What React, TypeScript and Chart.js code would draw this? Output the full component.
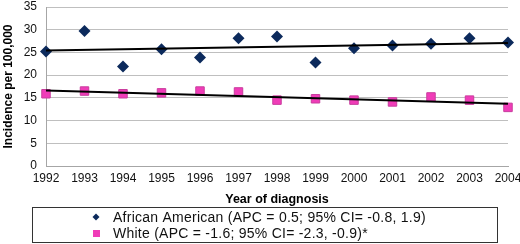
import React, { useEffect, useRef } from "react";
import { Chart, registerables } from "chart.js";

Chart.register(...registerables);

const years = [1992, 1993, 1994, 1995, 1996, 1997, 1998, 1999, 2000, 2001, 2002, 2003, 2004];
const africanAmerican = [25.2, 29.7, 21.9, 25.7, 23.9, 28.1, 28.5, 22.8, 25.9, 26.5, 26.9, 28.1, 27.2];
const white = [15.9, 16.5, 15.9, 16.1, 16.5, 16.3, 14.5, 14.8, 14.5, 14.1, 15.2, 14.5, 12.9];
const trendYears = [1992, 2004];
const aaTrend = [25.4, 27.1];
const whiteTrend = [16.6, 13.7];
const aaLabel = "African American (APC = 0.5; 95% CI= -0.8, 1.9)";
const whiteLabel = "White (APC = -1.6; 95% CI= -2.3, -0.9)*";
const xTitle = "Year of diagnosis";
const yTitle = "Incidence per 100,000";

const FONT = "'Liberation Sans', Arial, sans-serif";
const NAVY = "#0c2a5c";
const PINK = "#f03cb8";

const legendPlugin = {
  id: "boxLegend",
  afterDraw(chart: any) {
    const ctx = chart.ctx;
    ctx.save();
    ctx.strokeStyle = "#333333";
    ctx.lineWidth = 1;
    ctx.strokeRect(32.5, 207.5, 465, 35);
    ctx.font = `14px ${FONT}`;
    try {
      ctx.letterSpacing = "0.25px";
    } catch (e) {}
    ctx.textBaseline = "middle";
    ctx.textAlign = "left";
    const items = [
      { label: chart.data.datasets[0].label, y: 217, kind: "diamond" },
      { label: chart.data.datasets[1].label, y: 233, kind: "square" },
    ];
    for (const it of items) {
      if (it.kind === "diamond") {
        ctx.fillStyle = NAVY;
        ctx.beginPath();
        ctx.moveTo(96, it.y - 3.5);
        ctx.lineTo(99.5, it.y);
        ctx.lineTo(96, it.y + 3.5);
        ctx.lineTo(92.5, it.y);
        ctx.closePath();
        ctx.fill();
      } else {
        ctx.fillStyle = PINK;
        ctx.fillRect(93, it.y - 3, 7, 7);
      }
      ctx.fillStyle = "#111111";
      ctx.fillText(it.label, 113, it.y + 1);
    }
    ctx.restore();
  },
};

export default function App() {
  const ref = useRef<HTMLCanvasElement | null>(null);
  useEffect(() => {
    document.body.style.margin = "0";
    const canvas = ref.current;
    if (!canvas) return;
    const chart = new Chart(canvas, {
      type: "scatter",
      data: {
        datasets: [
          {
            label: aaLabel,
            data: years.map((x, i) => ({ x, y: africanAmerican[i] })),
            pointStyle: "rectRot",
            pointRadius: 6,
            backgroundColor: NAVY,
            borderColor: NAVY,
            borderWidth: 0,
            clip: false,
            order: 2,
          },
          {
            label: whiteLabel,
            data: years.map((x, i) => ({ x, y: white[i] })),
            pointStyle: "rect",
            pointRadius: 6,
            backgroundColor: PINK,
            borderColor: "#c93d9e",
            borderWidth: 1,
            clip: false,
            order: 2,
          },
          {
            type: "line",
            label: "aaTrend",
            data: trendYears.map((x, i) => ({ x, y: aaTrend[i] })),
            borderColor: "#000000",
            borderWidth: 2,
            pointRadius: 0,
            showLine: true,
            clip: false,
            order: 0,
          } as any,
          {
            type: "line",
            label: "whiteTrend",
            data: trendYears.map((x, i) => ({ x, y: whiteTrend[i] })),
            borderColor: "#000000",
            borderWidth: 2,
            pointRadius: 0,
            showLine: true,
            clip: false,
            order: 0,
          } as any,
        ],
      },
      options: {
        animation: false,
        responsive: false,
        maintainAspectRatio: false,
        layout: { padding: { top: 5, right: 12, left: 0, bottom: 0 } },
        plugins: {
          legend: { display: false },
          tooltip: { enabled: false },
        },
        scales: {
          x: {
            type: "linear",
            min: 1992,
            max: 2004,
            afterFit: (s: any) => {
              s.height = 78;
              s.paddingLeft = 0;
              s.paddingRight = 0;
            },
            ticks: {
              stepSize: 1,
              autoSkip: false,
              maxRotation: 0,
              padding: 5,
              color: "#111111",
              font: { family: FONT, size: 12 },
              callback: (v: any) => String(v),
            },
            grid: { display: false, drawTicks: false },
            border: { display: true, color: "#a6a6a6", width: 1 },
            title: {
              display: true,
              text: xTitle,
              color: "#000000",
              font: { family: FONT, size: 12.5, weight: "bold" },
              padding: { top: 0, bottom: 37 },
            },
          },
          y: {
            min: 0,
            max: 35,
            afterFit: (s: any) => {
              s.width = 46;
              s.paddingTop = 0;
              s.paddingBottom = 0;
            },
            ticks: {
              stepSize: 5,
              padding: 9,
              color: "#111111",
              font: { family: FONT, size: 12 },
            },
            grid: { color: "#bfbfbf", lineWidth: 1, drawTicks: false },
            border: { display: true, color: "#a6a6a6", width: 1 },
            title: {
              display: true,
              text: yTitle,
              color: "#000000",
              font: { family: FONT, size: 12, weight: "bold" },
              padding: { top: 1, bottom: 0 },
            },
          },
        },
      },
      plugins: [legendPlugin],
    } as any);
    return () => chart.destroy();
  }, []);
  return (
    <div style={{ position: "absolute", left: 0, top: 0, width: 520, height: 244, background: "#ffffff" }}>
      <canvas ref={ref} width={520} height={244} style={{ width: 520, height: 244 }} />
    </div>
  );
}
